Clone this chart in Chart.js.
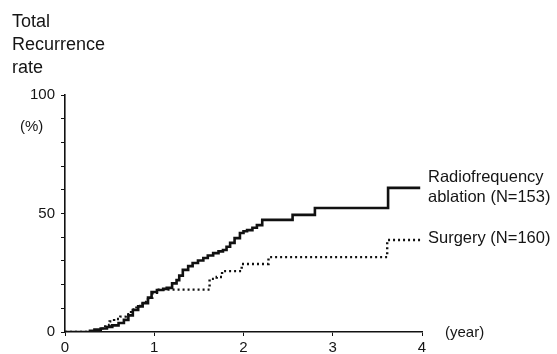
<!DOCTYPE html>
<html>
<head>
<meta charset="utf-8">
<script src="https://cdn.jsdelivr.net/npm/chart.js@4"></script>
<style>
  html, body { margin: 0; padding: 0; background: #fff; }
  #wrap { width: 557px; height: 354px; }
</style>
</head>
<body>
<div id="wrap"><canvas id="chart" width="557" height="354"></canvas></div>
<script>
// ─── Data (years, % recurrence) ───
const rfaYears = [0, 0.28, 0.33, 0.40, 0.47, 0.53, 0.60, 0.66, 0.71, 0.76, 0.82, 0.87, 0.93, 0.97,
  1.03, 1.10, 1.14, 1.20, 1.25, 1.28, 1.32, 1.38, 1.43, 1.49, 1.55, 1.60, 1.66, 1.72, 1.77, 1.81,
  1.85, 1.90, 1.96, 2.00, 2.04, 2.10, 2.15, 2.21, 2.55, 2.80, 3.62, 3.98];
const rfaRate = [0, 0.5, 1.0, 1.5, 2.1, 2.8, 3.8, 5.1, 7.0, 9.3, 10.8, 12.2, 14.5, 16.9,
  17.7, 18.2, 18.6, 20.5, 21.9, 23.8, 26.2, 27.8, 29.1, 30.2, 31.2, 32.3, 33.3, 34.0, 34.6, 36.0,
  37.6, 39.6, 41.8, 42.5, 43.0, 44.0, 45.1, 47.3, 49.4, 52.3, 60.8, 60.8];

const surgYears = [0, 0.38, 0.42, 0.45, 0.50, 0.55, 0.62, 0.68, 0.74, 0.80, 0.87, 0.93, 0.98,
  1.03, 1.62, 1.70, 1.76, 1.98, 2.28, 3.61, 3.98];
const surgRate = [0, 0.8, 2.0, 3.0, 4.5, 5.5, 6.5, 7.5, 9.5, 11.0, 12.7, 14.5, 16.5,
  17.9, 22.4, 23.2, 25.7, 28.7, 31.6, 38.8, 38.8];

const yLabelled = [0, 50, 100];
const titleLines = ['Total', 'Recurrence', 'rate'];
const rfaLabel = ['Radiofrequency', 'ablation (N=153)'];
const surgLabel = 'Surgery (N=160)';

const FONT = '"Liberation Sans", Arial, sans-serif';
const INK = '#151515';

const toPts = (xs, ys) => xs.map((x, i) => ({ x, y: ys[i] }));

// ─── Free text (title, units, end labels) ───
const textPlugin = {
  id: 'texts',
  afterDraw(chart) {
    const ctx = chart.ctx;
    ctx.save();
    ctx.fillStyle = INK;
    ctx.textBaseline = 'alphabetic';
    ctx.textAlign = 'left';
    ctx.font = '18px ' + FONT;
    titleLines.forEach((t, i) => ctx.fillText(t, 12, 27 + i * 23));

    ctx.font = '15px ' + FONT;
    ctx.textBaseline = 'middle';
    ctx.fillText('(%)', 20, 127);
    ctx.fillText('(year)', 445, 333);

    ctx.font = '16.5px ' + FONT;
    ctx.fillText(rfaLabel[0], 428, 177);
    ctx.fillText(rfaLabel[1], 428, 197);
    ctx.fillText(surgLabel, 428, 238);
    ctx.restore();
  }
};

// stepped 'before': each level holds until the next point's year, then jumps
new Chart(document.getElementById('chart'), {
  type: 'line',
  data: {
    datasets: [
      {
        label: 'Radiofrequency ablation (N=153)',
        data: toPts(rfaYears, rfaRate),
        borderColor: '#111',
        borderWidth: 2.6,
        stepped: 'before',
        pointRadius: 0,
        fill: false
      },
      {
        label: 'Surgery (N=160)',
        data: toPts(surgYears, surgRate),
        borderColor: '#111',
        borderWidth: 2.4,
        borderDash: [2, 3],
        stepped: 'before',
        pointRadius: 0,
        fill: false
      }
    ]
  },
  options: {
    responsive: false,
    animation: false,
    layout: { padding: { left: 0, right: 135, top: 95, bottom: 0 } },
    plugins: { legend: { display: false }, tooltip: { enabled: false } },
    scales: {
      x: {
        type: 'linear',
        min: 0,
        max: 4,
        afterFit: s => { s.height = 22; },
        border: { display: true, color: '#111', width: 1.6 },
        grid: { drawOnChartArea: false, drawTicks: true, tickLength: 4, color: '#111' },
        ticks: { stepSize: 1, padding: 3, color: INK, font: { family: FONT, size: 15 } }
      },
      y: {
        min: 0,
        max: 100,
        afterFit: s => { s.width = 65; },
        border: { display: true, color: '#111', width: 1.6 },
        grid: { drawOnChartArea: false, drawTicks: true, tickLength: 4, color: '#111' },
        ticks: {
          stepSize: 10,
          padding: 6,
          autoSkip: false,
          color: INK,
          font: { family: FONT, size: 15 },
          callback: v => (yLabelled.includes(v) ? String(v) : '')
        }
      }
    }
  },
  plugins: [textPlugin]
});
</script>
</body>
</html>
